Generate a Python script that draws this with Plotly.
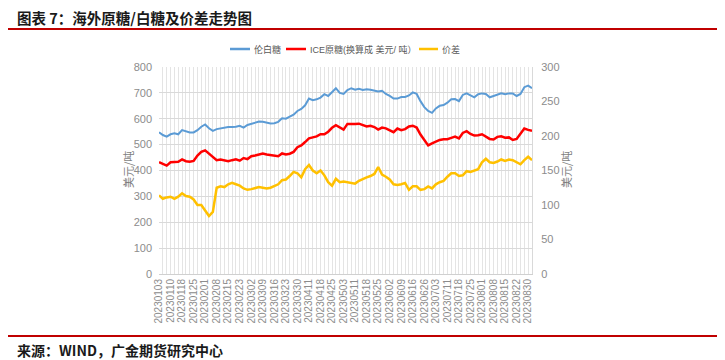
import plotly.graph_objects as go

# ---------------- data ----------------
dates = [
    "20230103", "20230105", "20230106",
    "20230110", "20230112", "20230113",
    "20230118", "20230120", "20230123",
    "20230125", "20230127", "20230130",
    "20230201", "20230203", "20230206",
    "20230208", "20230210", "20230213",
    "20230215", "20230217", "20230221",
    "20230223", "20230227", "20230228",
    "20230302", "20230306", "20230307",
    "20230309", "20230313", "20230314",
    "20230316", "20230320", "20230321",
    "20230323", "20230327", "20230328",
    "20230330", "20230403", "20230405",
    "20230411", "20230413", "20230414",
    "20230418", "20230420", "20230421",
    "20230425", "20230427", "20230428",
    "20230503", "20230505", "20230509",
    "20230511", "20230515", "20230516",
    "20230518", "20230522", "20230523",
    "20230525", "20230530", "20230531",
    "20230602", "20230606", "20230607",
    "20230609", "20230613", "20230614",
    "20230616", "20230620", "20230621",
    "20230626", "20230628", "20230629",
    "20230703", "20230706", "20230707",
    "20230711", "20230713", "20230714",
    "20230718", "20230720", "20230721",
    "20230725", "20230727", "20230728",
    "20230801", "20230803", "20230804",
    "20230808", "20230810", "20230811",
    "20230815", "20230817", "20230818",
    "20230822", "20230824", "20230825",
    "20230830", "20230831",
]

tick_labels = [
    "20230103", "20230110", "20230118", "20230125", "20230201", "20230208",
    "20230215", "20230223", "20230302", "20230309", "20230316", "20230323",
    "20230330", "20230411", "20230418", "20230425", "20230503", "20230511",
    "20230518", "20230525", "20230602", "20230609", "20230616", "20230626",
    "20230703", "20230711", "20230718", "20230725", "20230801", "20230808",
    "20230815", "20230822", "20230830",
]

# 伦白糖 (USD/t, left axis)
white_sugar = [
    548, 537, 531, 540, 544, 540, 556, 550, 547, 547,
    556, 569, 578, 563, 553, 560, 563, 567, 568, 568,
    569, 573, 566, 576, 580, 584, 589, 588, 585, 582,
    583, 588, 602, 600, 608, 616, 630, 638, 652, 678,
    672, 675, 682, 695, 688, 705, 718, 700, 696, 711,
    718, 712, 716, 711, 714, 712, 708, 705, 708, 696,
    688, 678, 678, 684, 684, 690, 702, 696, 668, 645,
    630, 623, 640, 650, 653, 662, 675, 676, 668, 692,
    698, 692, 683, 695, 698, 696, 683, 688, 694, 698,
    695, 698, 698, 688, 696, 722, 728, 718,
]

# ICE原糖 converted to USD/t (left axis)
raw_sugar = [
    432, 425, 419, 432, 433, 434, 443, 436, 434, 437,
    458, 472, 478, 466, 455, 440, 442, 438, 436, 440,
    443, 438, 448, 444, 455, 458, 463, 466, 462, 459,
    457, 455, 466, 462, 465, 472, 490, 497, 510, 524,
    528, 532, 540, 540, 550, 565, 575, 565, 558, 580,
    579, 580, 581, 576, 570, 573, 568, 558, 566, 563,
    556, 548, 562, 556, 560, 570, 573, 566, 539, 516,
    497, 505, 512, 518, 521, 521, 526, 531, 524, 545,
    552, 541, 535, 536, 540, 530, 522, 520, 530, 532,
    527, 528, 518, 522, 540, 562, 557, 554,
]

# 价差 (USD/t, right axis)
spread = [
    114, 109, 111, 112, 109, 112, 117, 113, 112, 108,
    100, 100, 92, 84, 90, 125, 127, 126, 130, 132,
    130, 128, 124, 122, 123, 124, 126, 125, 124, 125,
    127, 130, 136, 137, 142, 148, 146, 140, 152, 158,
    150, 146, 150, 143, 133, 128, 138, 133, 134, 133,
    131, 131, 135, 138, 140, 142, 145, 155, 144, 141,
    137, 130, 129, 130, 132, 122, 127, 127, 122, 123,
    127, 124, 130, 133, 135, 141, 146, 146, 142, 143,
    149, 148, 150, 152, 162, 167, 162, 161, 163, 166,
    164, 166, 165, 162, 159, 165, 170, 165,
]

series_names = ["伦白糖", "ICE原糖(换算成 美元/ 吨）", "价差"]
series_colors = ["#5B9BD5", "#FF0000", "#FFC000"]

# ---------------- figure ----------------
# the page body has an 8px default margin, so the figure is drawn 8px smaller
# and every reference pixel position is shifted by that offset
OFF = 8
W, H = 725 - OFF, 360 - OFF
L, R, T, B = 159 - OFF, 532 - OFF, 67 - OFF, 274 - OFF   # plot area (figure pixels)


def px_x(x):
    """reference-window x pixel -> paper coordinate"""
    return (x - OFF - L) / (R - L)


def px_y(y):
    """reference-window y pixel -> paper coordinate"""
    return (B - (y - OFF)) / (B - T)


FONT = "Liberation Sans, Arial, Noto Sans CJK SC, sans-serif"
CJK = "Noto Sans CJK SC, sans-serif"
GREY = "#8C8C8C"

fig = go.Figure()
fig.add_trace(go.Scatter(x=dates, y=white_sugar, name=series_names[0], mode="lines",
                         line=dict(color=series_colors[0], width=2)))
fig.add_trace(go.Scatter(x=dates, y=raw_sugar, name=series_names[1], mode="lines",
                         line=dict(color=series_colors[1], width=2.5)))
fig.add_trace(go.Scatter(x=dates, y=spread, name=series_names[2], mode="lines",
                         yaxis="y2", line=dict(color=series_colors[2], width=2.5)))

ticktext = [d if d in tick_labels else "" for d in dates]

# compact legend drawn by hand (line sample + text), as in the reference
LEG_Y = 49
legend_pos = [(230, 250, 253), (286, 306, 309), (419, 438, 441)]
shapes = [
    dict(type="line", xref="paper", yref="paper", x0=px_x(8), x1=px_x(720),
         y0=px_y(29), y1=px_y(29), line=dict(color="#C00000", width=2)),
    dict(type="line", xref="paper", yref="paper", x0=px_x(8), x1=px_x(720),
         y0=px_y(336), y1=px_y(336), line=dict(color="#C00000", width=2)),
]
annotations = [
    dict(text="<b>图表 7：海外原糖/白糖及价差走势图</b>", xref="paper", yref="paper",
         x=px_x(16), y=px_y(17.5), xanchor="left", yanchor="middle", showarrow=False,
         borderpad=0, font=dict(family=CJK, size=14.5, color="#1A1A1A")),
    dict(text="<b>来源：WIND，广金期货研究中心</b>", xref="paper", yref="paper",
         x=px_x(16), y=px_y(350), xanchor="left", yanchor="middle", showarrow=False,
         borderpad=0, font=dict(family=CJK, size=14, color="#1A1A1A")),
    dict(text="美元/吨", xref="paper", yref="paper", x=px_x(128), y=px_y(170),
         xanchor="center", yanchor="middle", textangle=-90, showarrow=False,
         font=dict(family=CJK, size=11, color="#7F7F7F")),
    dict(text="美元/吨", xref="paper", yref="paper", x=px_x(566), y=px_y(170),
         xanchor="center", yanchor="middle", textangle=-90, showarrow=False,
         font=dict(family=CJK, size=11, color="#7F7F7F")),
]
for (x0, x1, xt), name, col in zip(legend_pos, series_names, series_colors):
    shapes.append(dict(type="line", xref="paper", yref="paper", x0=px_x(x0), x1=px_x(x1),
                       y0=px_y(LEG_Y), y1=px_y(LEG_Y), line=dict(color=col, width=2.5)))
    annotations.append(dict(text=name, xref="paper", yref="paper", x=px_x(xt), y=px_y(LEG_Y),
                            xanchor="left", yanchor="middle", showarrow=False, borderpad=0,
                            font=dict(family=FONT, size=9, color="#595959")))

fig.update_layout(
    width=W, height=H,
    margin=dict(l=L, r=W - R, t=T, b=H - B, autoexpand=False),
    paper_bgcolor="white", plot_bgcolor="white",
    font=dict(family=FONT, color=GREY, size=11),
    showlegend=False,
    xaxis=dict(type="category", range=[0, len(dates) - 1],
               tickmode="array", tickvals=dates, ticktext=ticktext,
               tickangle=-90, tickfont=dict(size=10, color=GREY),
               showgrid=True, gridcolor="#E4E4E4", gridwidth=1,
               showline=True, linecolor="#D0D0D0", ticks="", automargin=False,
               zeroline=False),
    yaxis=dict(range=[0, 800], dtick=100, tick0=0, showgrid=True, gridcolor="#D9D9D9",
               zeroline=False, showline=False, ticks="", tickfont=dict(size=11, color=GREY),
               ticklabelstandoff=6, automargin=False),
    yaxis2=dict(range=[0, 300], dtick=50, tick0=0, overlaying="y", side="right",
                showgrid=False, zeroline=False, showline=True, linecolor="#D9D9D9",
                ticks="", tickfont=dict(size=11, color=GREY), ticklabelstandoff=6,
                automargin=False),
    shapes=shapes,
    annotations=annotations,
)

fig.write_html("out.html")
